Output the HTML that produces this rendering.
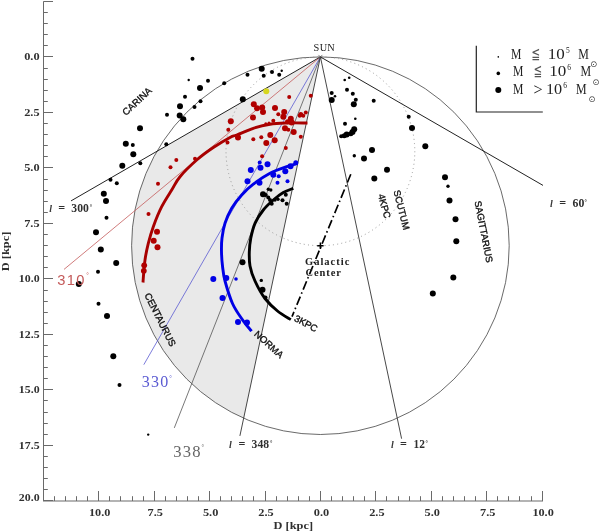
<!DOCTYPE html>
<html lang="en"><head><meta charset="utf-8"><title>Galactic plane distribution</title>
<style>html,body{margin:0;padding:0;background:#fff}body{width:600px;height:531px;overflow:hidden}svg{display:block}.ax{font-family:"Liberation Serif","DejaVu Serif",serif;font-size:11.3px;font-weight:bold;fill:#303030}.ll{font-family:"Liberation Serif","DejaVu Serif",serif;font-size:11.5px;font-weight:bold;fill:#303030}.arm{font-family:"Liberation Sans","DejaVu Sans",sans-serif;font-size:9.5px;fill:#111}.lg{font-family:"Liberation Serif","DejaVu Serif",serif;font-size:14px;fill:#222}</style></head><body>
<svg width="600" height="531" viewBox="0 0 600 531">
<rect width="600" height="531" fill="#fff"/>
<path d="M320.4,56.9 L156.9,151.3 A188.8,188.8 0 0 0 243.7,418.2 Z" fill="#e9e9e9"/>
<circle cx="320.4" cy="245.7" r="188.8" fill="none" stroke="#444" stroke-width="0.8"/>
<circle cx="320.4" cy="151.3" r="94.4" fill="none" stroke="#999" stroke-width="1" stroke-dasharray="1 3.2"/>
<line x1="320.4" y1="56.9" x2="71.0" y2="200.9" stroke="#222" stroke-width="1.0"/>
<line x1="320.4" y1="56.9" x2="64.0" y2="269.4" stroke="#c45a5a" stroke-width="0.8"/>
<line x1="320.4" y1="56.9" x2="143.8" y2="364.7" stroke="#5a5ad2" stroke-width="0.8"/>
<line x1="320.4" y1="56.9" x2="174.3" y2="427.9" stroke="#555" stroke-width="0.8"/>
<line x1="320.4" y1="56.9" x2="239.9" y2="435.9" stroke="#333" stroke-width="0.9"/>
<line x1="320.4" y1="56.9" x2="401.6" y2="438.7" stroke="#333" stroke-width="0.9"/>
<line x1="320.4" y1="56.9" x2="543.0" y2="185.4" stroke="#222" stroke-width="1.0"/>
<path d="M307.5,123.0 C304.0,123.0 292.9,122.8 286.7,123.0 C280.4,123.2 275.6,123.3 270.0,124.2 C264.4,125.1 258.9,126.5 253.3,128.3 C247.8,130.1 240.6,133.5 236.7,135.0 C232.8,136.5 233.9,135.4 230.0,137.5 C226.1,139.6 218.9,143.8 213.3,147.5 C207.8,151.2 202.2,155.1 196.7,160.0 C191.1,164.9 184.2,171.7 180.0,176.7 C175.8,181.7 174.8,185.0 171.7,190.0 C168.6,195.0 164.8,200.6 161.7,206.7 C158.6,212.8 155.5,220.6 153.3,226.7 C151.1,232.8 149.7,237.8 148.3,243.3 C146.9,248.9 145.8,254.2 145.0,260.0 C144.2,265.8 143.6,274.2 143.3,278.0 C143.0,281.8 143.1,281.8 143.0,282.5" fill="none" stroke="#a80000" stroke-width="2.9"/>
<path d="M297.5,163.3 C295.7,163.9 291.3,165.0 286.7,166.7 C282.1,168.4 275.6,170.4 270.0,173.3 C264.4,176.2 258.0,180.6 253.3,184.2 C248.6,187.8 245.3,191.0 241.7,195.0 C238.1,199.0 234.5,203.6 231.7,208.3 C228.9,213.0 226.6,218.4 225.0,223.3 C223.4,228.2 222.6,233.2 222.0,238.0 C221.4,242.8 221.4,247.3 221.5,252.0 C221.6,256.7 221.9,261.2 222.5,266.0 C223.1,270.8 223.3,274.8 225.0,281.0 C226.7,287.2 229.6,297.0 232.5,303.5 C235.4,310.0 239.3,315.2 242.5,319.8 C245.7,324.4 250.1,329.3 251.6,331.2" fill="none" stroke="#0000e6" stroke-width="2.9"/>
<path d="M293.3,188.3 C291.6,189.0 286.6,190.6 283.3,192.5 C280.0,194.4 276.6,197.1 273.3,200.0 C270.0,202.9 266.4,206.1 263.3,210.0 C260.2,213.9 257.1,218.6 255.0,223.3 C252.9,228.0 251.8,233.2 250.8,238.0 C249.9,242.8 249.4,247.3 249.3,252.0 C249.2,256.7 249.1,261.2 250.0,266.0 C250.9,270.8 252.5,275.6 255.0,281.0 C257.5,286.4 261.2,293.5 265.0,298.5 C268.8,303.5 273.2,307.5 277.5,311.0 C281.8,314.5 288.6,318.2 290.8,319.6" fill="none" stroke="#000" stroke-width="2.9"/>
<line x1="350.8" y1="174.2" x2="292.0" y2="316.6" stroke="#000" stroke-width="1.7" stroke-dasharray="9 3 1.5 3.05"/>
<path d="M317.2,245.7 h6.4 M320.4,242.5 v6.4" stroke="#000" stroke-width="1.5" fill="none"/>
<path d="M318.4,54.9 l4,4 M322.4,54.9 l-4,4" stroke="#555" stroke-width="0.7" fill="none"/>
<circle cx="192.5" cy="58.7" r="2" fill="#000"/>
<circle cx="188.7" cy="80" r="1.2" fill="#000"/>
<circle cx="208" cy="80.8" r="2" fill="#000"/>
<circle cx="200" cy="88" r="3" fill="#000"/>
<circle cx="224.2" cy="83.3" r="2" fill="#000"/>
<circle cx="247.5" cy="74.8" r="2" fill="#000"/>
<circle cx="242.8" cy="99.3" r="3" fill="#000"/>
<circle cx="185" cy="96.7" r="2" fill="#000"/>
<circle cx="200.5" cy="101.2" r="2" fill="#000"/>
<circle cx="194.5" cy="107" r="2" fill="#000"/>
<circle cx="180" cy="106.2" r="3" fill="#000"/>
<circle cx="167" cy="114.7" r="2" fill="#000"/>
<circle cx="179.7" cy="115.5" r="3" fill="#000"/>
<circle cx="183.3" cy="119.2" r="3" fill="#000"/>
<circle cx="261.7" cy="68.8" r="3" fill="#000"/>
<circle cx="263.7" cy="75.8" r="2" fill="#000"/>
<circle cx="272" cy="72" r="2" fill="#000"/>
<circle cx="279.2" cy="74.7" r="2" fill="#000"/>
<circle cx="281.7" cy="70.8" r="1.2" fill="#000"/>
<circle cx="140" cy="128.3" r="3" fill="#000"/>
<circle cx="132.8" cy="145" r="2" fill="#000"/>
<circle cx="133.3" cy="154.2" r="3" fill="#000"/>
<circle cx="166.3" cy="144.2" r="2" fill="#000"/>
<circle cx="140.3" cy="163.3" r="2" fill="#000"/>
<circle cx="125.8" cy="143.8" r="3" fill="#000"/>
<circle cx="122.3" cy="165.8" r="3" fill="#000"/>
<circle cx="110.5" cy="179.8" r="2" fill="#000"/>
<circle cx="116.8" cy="183.3" r="2" fill="#000"/>
<circle cx="103.8" cy="193.8" r="3" fill="#000"/>
<circle cx="106" cy="201" r="3" fill="#000"/>
<circle cx="106.5" cy="217.8" r="2" fill="#000"/>
<circle cx="96" cy="232.3" r="3" fill="#000"/>
<circle cx="100.8" cy="249.5" r="3" fill="#000"/>
<circle cx="116.2" cy="263" r="3" fill="#000"/>
<circle cx="98" cy="271.8" r="2" fill="#000"/>
<circle cx="78.8" cy="284" r="3" fill="#000"/>
<circle cx="98.5" cy="303.8" r="2" fill="#000"/>
<circle cx="107" cy="316" r="3" fill="#000"/>
<circle cx="113.3" cy="356.3" r="3" fill="#000"/>
<circle cx="119.5" cy="385" r="2" fill="#000"/>
<circle cx="148.2" cy="434.6" r="1.2" fill="#000"/>
<circle cx="242.5" cy="262.3" r="3" fill="#000"/>
<circle cx="261.3" cy="280.4" r="1.7" fill="#000"/>
<circle cx="262.5" cy="289.8" r="3" fill="#000"/>
<circle cx="265.5" cy="297.6" r="2" fill="#000"/>
<circle cx="268.3" cy="189.2" r="1.7" fill="#000"/>
<circle cx="270.8" cy="190" r="1.7" fill="#000"/>
<circle cx="263" cy="194.2" r="3" fill="#000"/>
<circle cx="265.8" cy="195" r="2" fill="#000"/>
<circle cx="268.3" cy="197.5" r="2" fill="#000"/>
<circle cx="270" cy="200" r="2" fill="#000"/>
<circle cx="271.7" cy="203.7" r="2" fill="#000"/>
<circle cx="275" cy="200" r="1.7" fill="#000"/>
<circle cx="278" cy="199.2" r="1.7" fill="#000"/>
<circle cx="282.5" cy="200.3" r="2" fill="#000"/>
<circle cx="286.7" cy="203.7" r="2" fill="#000"/>
<circle cx="285.8" cy="194.7" r="2" fill="#000"/>
<circle cx="344.7" cy="80" r="1.3" fill="#000"/>
<circle cx="349.2" cy="77.8" r="1.3" fill="#000"/>
<circle cx="347" cy="89.7" r="2" fill="#000"/>
<circle cx="352.8" cy="93.7" r="2" fill="#000"/>
<circle cx="331.7" cy="93" r="2" fill="#000"/>
<circle cx="335" cy="96.3" r="1.3" fill="#000"/>
<circle cx="331.7" cy="100" r="3" fill="#000"/>
<circle cx="355.8" cy="99.7" r="2" fill="#000"/>
<circle cx="353.8" cy="104.2" r="3" fill="#000"/>
<circle cx="373.7" cy="100.8" r="2" fill="#000"/>
<circle cx="355.3" cy="118.8" r="1.3" fill="#000"/>
<circle cx="345" cy="123.7" r="2" fill="#000"/>
<circle cx="354.2" cy="129.2" r="3" fill="#000"/>
<circle cx="352.5" cy="132" r="3" fill="#000"/>
<circle cx="350.8" cy="133.8" r="2.5" fill="#000"/>
<circle cx="346.7" cy="134.5" r="3" fill="#000"/>
<circle cx="344.2" cy="135.8" r="2.5" fill="#000"/>
<circle cx="341.2" cy="136.3" r="2" fill="#000"/>
<circle cx="408.7" cy="116.8" r="2" fill="#000"/>
<circle cx="412" cy="128" r="3" fill="#000"/>
<circle cx="425.3" cy="146.3" r="3" fill="#000"/>
<circle cx="372" cy="150" r="3" fill="#000"/>
<circle cx="354.3" cy="155.8" r="1.7" fill="#000"/>
<circle cx="364" cy="158.5" r="3" fill="#000"/>
<circle cx="387" cy="169.8" r="3" fill="#000"/>
<circle cx="374.3" cy="178.5" r="3" fill="#000"/>
<circle cx="445" cy="177.3" r="3" fill="#000"/>
<circle cx="448" cy="186.3" r="1.7" fill="#000"/>
<circle cx="449.5" cy="200.5" r="3" fill="#000"/>
<circle cx="455.5" cy="219.3" r="3" fill="#000"/>
<circle cx="456.3" cy="241.3" r="3" fill="#000"/>
<circle cx="453.3" cy="277.5" r="3" fill="#000"/>
<circle cx="432.8" cy="293.5" r="3" fill="#000"/>
<circle cx="289.2" cy="97" r="2" fill="#b00000"/>
<circle cx="310.8" cy="95.7" r="2" fill="#b00000"/>
<circle cx="253.8" cy="104.2" r="3" fill="#b00000"/>
<circle cx="257" cy="108.3" r="3" fill="#b00000"/>
<circle cx="262.2" cy="107.5" r="3" fill="#b00000"/>
<circle cx="263" cy="112" r="3" fill="#b00000"/>
<circle cx="275" cy="108" r="3" fill="#b00000"/>
<circle cx="278.3" cy="114.2" r="2" fill="#b00000"/>
<circle cx="284.2" cy="112" r="3" fill="#b00000"/>
<circle cx="283.3" cy="116.7" r="3" fill="#b00000"/>
<circle cx="253" cy="117.5" r="3" fill="#b00000"/>
<circle cx="230.8" cy="121.3" r="3" fill="#b00000"/>
<circle cx="228.3" cy="129.7" r="2" fill="#b00000"/>
<circle cx="273.3" cy="120.8" r="2" fill="#b00000"/>
<circle cx="265.8" cy="123.7" r="1.5" fill="#b00000"/>
<circle cx="269" cy="123" r="1.5" fill="#b00000"/>
<circle cx="290.8" cy="118.7" r="3" fill="#b00000"/>
<circle cx="291.7" cy="122.5" r="3" fill="#b00000"/>
<circle cx="287.5" cy="121.7" r="2.5" fill="#b00000"/>
<circle cx="300.8" cy="114.5" r="2.5" fill="#b00000"/>
<circle cx="303.3" cy="115.8" r="2" fill="#b00000"/>
<circle cx="305.8" cy="112.5" r="2" fill="#b00000"/>
<circle cx="299.7" cy="115.8" r="2" fill="#b00000"/>
<circle cx="285" cy="128.3" r="3" fill="#b00000"/>
<circle cx="288.3" cy="129.7" r="2" fill="#b00000"/>
<circle cx="293.7" cy="132" r="3" fill="#b00000"/>
<circle cx="300.8" cy="136.7" r="2" fill="#b00000"/>
<circle cx="238" cy="137.5" r="3" fill="#b00000"/>
<circle cx="227.5" cy="142.5" r="2" fill="#b00000"/>
<circle cx="253.3" cy="139.2" r="2" fill="#b00000"/>
<circle cx="261.3" cy="137.2" r="2" fill="#b00000"/>
<circle cx="270.3" cy="135" r="3" fill="#b00000"/>
<circle cx="274.7" cy="140.3" r="3" fill="#b00000"/>
<circle cx="266.3" cy="143" r="3" fill="#b00000"/>
<circle cx="285.8" cy="148" r="2" fill="#b00000"/>
<circle cx="262.1" cy="156.3" r="2" fill="#b00000"/>
<circle cx="176.3" cy="160" r="2" fill="#b00000"/>
<circle cx="170.5" cy="167.2" r="2" fill="#b00000"/>
<circle cx="195" cy="158.8" r="2" fill="#b00000"/>
<circle cx="158" cy="183.8" r="2" fill="#b00000"/>
<circle cx="148.5" cy="213.9" r="2" fill="#b00000"/>
<circle cx="157" cy="231.7" r="3" fill="#b00000"/>
<circle cx="153.7" cy="240.8" r="3" fill="#b00000"/>
<circle cx="157.5" cy="247.2" r="3" fill="#b00000"/>
<circle cx="144.2" cy="265.3" r="2.9" fill="#b00000"/>
<circle cx="143.8" cy="270.8" r="2.9" fill="#b00000"/>
<circle cx="259.7" cy="162.5" r="2" fill="#0000e6"/>
<circle cx="267.5" cy="164.2" r="3" fill="#0000e6"/>
<circle cx="260.5" cy="167.8" r="3" fill="#0000e6"/>
<circle cx="250.8" cy="170" r="3" fill="#0000e6"/>
<circle cx="247.5" cy="181.2" r="3" fill="#0000e6"/>
<circle cx="259.5" cy="182.8" r="3" fill="#0000e6"/>
<circle cx="273.3" cy="174.7" r="3" fill="#0000e6"/>
<circle cx="278.7" cy="176.2" r="2" fill="#0000e6"/>
<circle cx="285.3" cy="171.3" r="3" fill="#0000e6"/>
<circle cx="290.5" cy="166.2" r="3" fill="#0000e6"/>
<circle cx="295.8" cy="162.8" r="2.5" fill="#0000e6"/>
<circle cx="277.5" cy="182.8" r="2" fill="#0000e6"/>
<circle cx="287.5" cy="181.2" r="2" fill="#0000e6"/>
<circle cx="213.3" cy="279" r="3" fill="#0000e6"/>
<circle cx="226.3" cy="278" r="3" fill="#0000e6"/>
<circle cx="236" cy="279" r="1.8" fill="#0000e6"/>
<circle cx="222.5" cy="298" r="3" fill="#0000e6"/>
<circle cx="238" cy="322" r="3" fill="#0000e6"/>
<circle cx="247" cy="322.5" r="3" fill="#0000e6"/>
<circle cx="266.3" cy="91.2" r="3" fill="#d6d61e"/>
<path d="M43.5,1.4 V501.0" fill="none" stroke="#6a6a6a" stroke-width="1"/>
<path d="M43.0,501.0 H543.0" fill="none" stroke="#6a6a6a" stroke-width="1.2"/>
<line x1="43.5" y1="1.5" x2="53.0" y2="1.5" stroke="#6a6a6a" stroke-width="1"/>
<line x1="43.5" y1="12.5" x2="47.8" y2="12.5" stroke="#6a6a6a" stroke-width="1"/>
<line x1="43.5" y1="23.5" x2="47.8" y2="23.5" stroke="#6a6a6a" stroke-width="1"/>
<line x1="43.5" y1="34.5" x2="47.8" y2="34.5" stroke="#6a6a6a" stroke-width="1"/>
<line x1="43.5" y1="45.5" x2="47.8" y2="45.5" stroke="#6a6a6a" stroke-width="1"/>
<line x1="43.5" y1="56.5" x2="53.0" y2="56.5" stroke="#6a6a6a" stroke-width="1"/>
<text class="ax" x="24.2" y="60.4" textLength="15.4" lengthAdjust="spacingAndGlyphs">0.0</text>
<line x1="43.5" y1="68.5" x2="47.8" y2="68.5" stroke="#6a6a6a" stroke-width="1"/>
<line x1="43.5" y1="79.5" x2="47.8" y2="79.5" stroke="#6a6a6a" stroke-width="1"/>
<line x1="43.5" y1="90.5" x2="47.8" y2="90.5" stroke="#6a6a6a" stroke-width="1"/>
<line x1="43.5" y1="101.5" x2="47.8" y2="101.5" stroke="#6a6a6a" stroke-width="1"/>
<line x1="43.5" y1="112.5" x2="53.0" y2="112.5" stroke="#6a6a6a" stroke-width="1"/>
<text class="ax" x="24.2" y="115.9" textLength="15.4" lengthAdjust="spacingAndGlyphs">2.5</text>
<line x1="43.5" y1="123.5" x2="47.8" y2="123.5" stroke="#6a6a6a" stroke-width="1"/>
<line x1="43.5" y1="134.5" x2="47.8" y2="134.5" stroke="#6a6a6a" stroke-width="1"/>
<line x1="43.5" y1="145.5" x2="47.8" y2="145.5" stroke="#6a6a6a" stroke-width="1"/>
<line x1="43.5" y1="156.5" x2="47.8" y2="156.5" stroke="#6a6a6a" stroke-width="1"/>
<line x1="43.5" y1="167.5" x2="53.0" y2="167.5" stroke="#6a6a6a" stroke-width="1"/>
<text class="ax" x="24.2" y="171.4" textLength="15.4" lengthAdjust="spacingAndGlyphs">5.0</text>
<line x1="43.5" y1="179.5" x2="47.8" y2="179.5" stroke="#6a6a6a" stroke-width="1"/>
<line x1="43.5" y1="190.5" x2="47.8" y2="190.5" stroke="#6a6a6a" stroke-width="1"/>
<line x1="43.5" y1="201.5" x2="47.8" y2="201.5" stroke="#6a6a6a" stroke-width="1"/>
<line x1="43.5" y1="212.5" x2="47.8" y2="212.5" stroke="#6a6a6a" stroke-width="1"/>
<line x1="43.5" y1="223.5" x2="53.0" y2="223.5" stroke="#6a6a6a" stroke-width="1"/>
<text class="ax" x="24.2" y="226.9" textLength="15.4" lengthAdjust="spacingAndGlyphs">7.5</text>
<line x1="43.5" y1="234.5" x2="47.8" y2="234.5" stroke="#6a6a6a" stroke-width="1"/>
<line x1="43.5" y1="245.5" x2="47.8" y2="245.5" stroke="#6a6a6a" stroke-width="1"/>
<line x1="43.5" y1="256.5" x2="47.8" y2="256.5" stroke="#6a6a6a" stroke-width="1"/>
<line x1="43.5" y1="267.5" x2="47.8" y2="267.5" stroke="#6a6a6a" stroke-width="1"/>
<line x1="43.5" y1="278.5" x2="53.0" y2="278.5" stroke="#6a6a6a" stroke-width="1"/>
<text class="ax" x="18.8" y="282.4" textLength="20.8" lengthAdjust="spacingAndGlyphs">10.0</text>
<line x1="43.5" y1="290.5" x2="47.8" y2="290.5" stroke="#6a6a6a" stroke-width="1"/>
<line x1="43.5" y1="301.5" x2="47.8" y2="301.5" stroke="#6a6a6a" stroke-width="1"/>
<line x1="43.5" y1="312.5" x2="47.8" y2="312.5" stroke="#6a6a6a" stroke-width="1"/>
<line x1="43.5" y1="323.5" x2="47.8" y2="323.5" stroke="#6a6a6a" stroke-width="1"/>
<line x1="43.5" y1="334.5" x2="53.0" y2="334.5" stroke="#6a6a6a" stroke-width="1"/>
<text class="ax" x="18.8" y="337.9" textLength="20.8" lengthAdjust="spacingAndGlyphs">12.5</text>
<line x1="43.5" y1="345.5" x2="47.8" y2="345.5" stroke="#6a6a6a" stroke-width="1"/>
<line x1="43.5" y1="356.5" x2="47.8" y2="356.5" stroke="#6a6a6a" stroke-width="1"/>
<line x1="43.5" y1="367.5" x2="47.8" y2="367.5" stroke="#6a6a6a" stroke-width="1"/>
<line x1="43.5" y1="378.5" x2="47.8" y2="378.5" stroke="#6a6a6a" stroke-width="1"/>
<line x1="43.5" y1="389.5" x2="53.0" y2="389.5" stroke="#6a6a6a" stroke-width="1"/>
<text class="ax" x="18.8" y="393.4" textLength="20.8" lengthAdjust="spacingAndGlyphs">15.0</text>
<line x1="43.5" y1="400.5" x2="47.8" y2="400.5" stroke="#6a6a6a" stroke-width="1"/>
<line x1="43.5" y1="412.5" x2="47.8" y2="412.5" stroke="#6a6a6a" stroke-width="1"/>
<line x1="43.5" y1="423.5" x2="47.8" y2="423.5" stroke="#6a6a6a" stroke-width="1"/>
<line x1="43.5" y1="434.5" x2="47.8" y2="434.5" stroke="#6a6a6a" stroke-width="1"/>
<line x1="43.5" y1="445.5" x2="53.0" y2="445.5" stroke="#6a6a6a" stroke-width="1"/>
<text class="ax" x="18.8" y="448.9" textLength="20.8" lengthAdjust="spacingAndGlyphs">17.5</text>
<line x1="43.5" y1="456.5" x2="47.8" y2="456.5" stroke="#6a6a6a" stroke-width="1"/>
<line x1="43.5" y1="467.5" x2="47.8" y2="467.5" stroke="#6a6a6a" stroke-width="1"/>
<line x1="43.5" y1="478.5" x2="47.8" y2="478.5" stroke="#6a6a6a" stroke-width="1"/>
<line x1="43.5" y1="489.5" x2="47.8" y2="489.5" stroke="#6a6a6a" stroke-width="1"/>
<line x1="43.5" y1="500.5" x2="53.0" y2="500.5" stroke="#6a6a6a" stroke-width="1"/>
<text class="ax" x="18.8" y="500.7" textLength="20.8" lengthAdjust="spacingAndGlyphs">20.0</text>
<line x1="43.5" y1="501.0" x2="43.5" y2="491.0" stroke="#6a6a6a" stroke-width="1"/>
<line x1="54.5" y1="501.0" x2="54.5" y2="496.2" stroke="#6a6a6a" stroke-width="1"/>
<line x1="65.5" y1="501.0" x2="65.5" y2="496.2" stroke="#6a6a6a" stroke-width="1"/>
<line x1="76.5" y1="501.0" x2="76.5" y2="496.2" stroke="#6a6a6a" stroke-width="1"/>
<line x1="87.5" y1="501.0" x2="87.5" y2="496.2" stroke="#6a6a6a" stroke-width="1"/>
<line x1="98.5" y1="501.0" x2="98.5" y2="491.0" stroke="#6a6a6a" stroke-width="1"/>
<text class="ax" x="89.0" y="515.6" textLength="21.4" lengthAdjust="spacingAndGlyphs">10.0</text>
<line x1="109.5" y1="501.0" x2="109.5" y2="496.2" stroke="#6a6a6a" stroke-width="1"/>
<line x1="120.5" y1="501.0" x2="120.5" y2="496.2" stroke="#6a6a6a" stroke-width="1"/>
<line x1="132.5" y1="501.0" x2="132.5" y2="496.2" stroke="#6a6a6a" stroke-width="1"/>
<line x1="143.5" y1="501.0" x2="143.5" y2="496.2" stroke="#6a6a6a" stroke-width="1"/>
<line x1="154.5" y1="501.0" x2="154.5" y2="491.0" stroke="#6a6a6a" stroke-width="1"/>
<text class="ax" x="147.5" y="515.6" textLength="15.4" lengthAdjust="spacingAndGlyphs">7.5</text>
<line x1="165.5" y1="501.0" x2="165.5" y2="496.2" stroke="#6a6a6a" stroke-width="1"/>
<line x1="176.5" y1="501.0" x2="176.5" y2="496.2" stroke="#6a6a6a" stroke-width="1"/>
<line x1="187.5" y1="501.0" x2="187.5" y2="496.2" stroke="#6a6a6a" stroke-width="1"/>
<line x1="198.5" y1="501.0" x2="198.5" y2="496.2" stroke="#6a6a6a" stroke-width="1"/>
<line x1="209.5" y1="501.0" x2="209.5" y2="491.0" stroke="#6a6a6a" stroke-width="1"/>
<text class="ax" x="202.9" y="515.6" textLength="15.4" lengthAdjust="spacingAndGlyphs">5.0</text>
<line x1="220.5" y1="501.0" x2="220.5" y2="496.2" stroke="#6a6a6a" stroke-width="1"/>
<line x1="231.5" y1="501.0" x2="231.5" y2="496.2" stroke="#6a6a6a" stroke-width="1"/>
<line x1="242.5" y1="501.0" x2="242.5" y2="496.2" stroke="#6a6a6a" stroke-width="1"/>
<line x1="253.5" y1="501.0" x2="253.5" y2="496.2" stroke="#6a6a6a" stroke-width="1"/>
<line x1="265.5" y1="501.0" x2="265.5" y2="491.0" stroke="#6a6a6a" stroke-width="1"/>
<text class="ax" x="258.3" y="515.6" textLength="15.4" lengthAdjust="spacingAndGlyphs">2.5</text>
<line x1="276.5" y1="501.0" x2="276.5" y2="496.2" stroke="#6a6a6a" stroke-width="1"/>
<line x1="287.5" y1="501.0" x2="287.5" y2="496.2" stroke="#6a6a6a" stroke-width="1"/>
<line x1="298.5" y1="501.0" x2="298.5" y2="496.2" stroke="#6a6a6a" stroke-width="1"/>
<line x1="309.5" y1="501.0" x2="309.5" y2="496.2" stroke="#6a6a6a" stroke-width="1"/>
<line x1="320.5" y1="501.0" x2="320.5" y2="491.0" stroke="#6a6a6a" stroke-width="1"/>
<text class="ax" x="313.8" y="515.6" textLength="15.4" lengthAdjust="spacingAndGlyphs">0.0</text>
<line x1="331.5" y1="501.0" x2="331.5" y2="496.2" stroke="#6a6a6a" stroke-width="1"/>
<line x1="342.5" y1="501.0" x2="342.5" y2="496.2" stroke="#6a6a6a" stroke-width="1"/>
<line x1="353.5" y1="501.0" x2="353.5" y2="496.2" stroke="#6a6a6a" stroke-width="1"/>
<line x1="364.5" y1="501.0" x2="364.5" y2="496.2" stroke="#6a6a6a" stroke-width="1"/>
<line x1="375.5" y1="501.0" x2="375.5" y2="491.0" stroke="#6a6a6a" stroke-width="1"/>
<text class="ax" x="369.2" y="515.6" textLength="15.4" lengthAdjust="spacingAndGlyphs">2.5</text>
<line x1="386.5" y1="501.0" x2="386.5" y2="496.2" stroke="#6a6a6a" stroke-width="1"/>
<line x1="398.5" y1="501.0" x2="398.5" y2="496.2" stroke="#6a6a6a" stroke-width="1"/>
<line x1="409.5" y1="501.0" x2="409.5" y2="496.2" stroke="#6a6a6a" stroke-width="1"/>
<line x1="420.5" y1="501.0" x2="420.5" y2="496.2" stroke="#6a6a6a" stroke-width="1"/>
<line x1="431.5" y1="501.0" x2="431.5" y2="491.0" stroke="#6a6a6a" stroke-width="1"/>
<text class="ax" x="424.6" y="515.6" textLength="15.4" lengthAdjust="spacingAndGlyphs">5.0</text>
<line x1="442.5" y1="501.0" x2="442.5" y2="496.2" stroke="#6a6a6a" stroke-width="1"/>
<line x1="453.5" y1="501.0" x2="453.5" y2="496.2" stroke="#6a6a6a" stroke-width="1"/>
<line x1="464.5" y1="501.0" x2="464.5" y2="496.2" stroke="#6a6a6a" stroke-width="1"/>
<line x1="475.5" y1="501.0" x2="475.5" y2="496.2" stroke="#6a6a6a" stroke-width="1"/>
<line x1="486.5" y1="501.0" x2="486.5" y2="491.0" stroke="#6a6a6a" stroke-width="1"/>
<text class="ax" x="480.0" y="515.6" textLength="15.4" lengthAdjust="spacingAndGlyphs">7.5</text>
<line x1="497.5" y1="501.0" x2="497.5" y2="496.2" stroke="#6a6a6a" stroke-width="1"/>
<line x1="508.5" y1="501.0" x2="508.5" y2="496.2" stroke="#6a6a6a" stroke-width="1"/>
<line x1="519.5" y1="501.0" x2="519.5" y2="496.2" stroke="#6a6a6a" stroke-width="1"/>
<line x1="531.5" y1="501.0" x2="531.5" y2="496.2" stroke="#6a6a6a" stroke-width="1"/>
<line x1="542.5" y1="501.0" x2="542.5" y2="491.0" stroke="#6a6a6a" stroke-width="1"/>
<text class="ax" x="532.4" y="515.6" textLength="21.4" lengthAdjust="spacingAndGlyphs">10.0</text>
<text class="ax" x="273.6" y="528.6" textLength="39.4" lengthAdjust="spacingAndGlyphs">D [kpc]</text>
<text class="ax" transform="translate(8.9,271.2) rotate(-90)" textLength="39.6" lengthAdjust="spacingAndGlyphs" style="font-size:11px">D [kpc]</text>
<text class="ll" y="211.9"><tspan x="49.3" font-style="italic" font-size="10" fill="#3a3a3a">l</tspan><tspan x="58.2" textLength="6.9" lengthAdjust="spacingAndGlyphs">=</tspan><tspan x="71.3" textLength="17.5" lengthAdjust="spacingAndGlyphs">300</tspan><tspan x="89.8" dy="-3.4" font-size="6" fill="#222">°</tspan></text>
<text class="ll" y="448.0"><tspan x="229.0" font-style="italic" font-size="10" fill="#3a3a3a">l</tspan><tspan x="238.6" textLength="6.9" lengthAdjust="spacingAndGlyphs">=</tspan><tspan x="251.6" textLength="17.4" lengthAdjust="spacingAndGlyphs">348</tspan><tspan x="270.0" dy="-3.4" font-size="6" fill="#222">°</tspan></text>
<text class="ll" y="448.0"><tspan x="391.0" font-style="italic" font-size="10" fill="#3a3a3a">l</tspan><tspan x="400.0" textLength="6.9" lengthAdjust="spacingAndGlyphs">=</tspan><tspan x="413.6" textLength="11.4" lengthAdjust="spacingAndGlyphs">12</tspan><tspan x="425.6" dy="-3.4" font-size="6" fill="#222">°</tspan></text>
<text class="ll" y="206.9"><tspan x="550.0" font-style="italic" font-size="10" fill="#3a3a3a">l</tspan><tspan x="559.3" textLength="6.9" lengthAdjust="spacingAndGlyphs">=</tspan><tspan x="572.5" textLength="11.8" lengthAdjust="spacingAndGlyphs">60</tspan><tspan x="584.6" dy="-3.4" font-size="6" fill="#222">°</tspan></text>
<text x="57.2" y="284.6" textLength="27.3" lengthAdjust="spacing" style="font-family:'Liberation Sans',sans-serif;font-size:14.7px;fill:#c45a5a">310</text>
<text x="86.2" y="277.6" style="font-family:'Liberation Sans',sans-serif;font-size:6.5px;fill:#c45a5a">°</text>
<text x="141.7" y="387.3" textLength="26.6" lengthAdjust="spacing" style="font-family:'Liberation Serif',serif;font-size:16px;fill:#5a5ad2">330</text>
<text x="169.2" y="380.1" style="font-family:'Liberation Serif',serif;font-size:6.5px;fill:#5a5ad2">°</text>
<text x="173.2" y="456.5" textLength="27.3" lengthAdjust="spacing" style="font-family:'Liberation Serif',serif;font-size:16.6px;fill:#666">338</text>
<text x="201.5" y="449.1" style="font-family:'Liberation Serif',serif;font-size:6.5px;fill:#666">°</text>
<text x="313.6" y="51.4" textLength="21.2" lengthAdjust="spacing" style="font-family:'Liberation Serif',serif;font-size:10.3px;fill:#222">SUN</text>
<text class="ll" x="305" y="264.6" textLength="44.3" lengthAdjust="spacing" style="font-size:10.5px;fill:#222">Galactic</text>
<text class="ll" x="305.5" y="275.6" textLength="35.5" lengthAdjust="spacing" style="font-size:10.5px;fill:#222">Center</text>
<g stroke="#111" stroke-width="0.35">
<text class="arm" transform="translate(126.1,115.9) rotate(-43)">CARINA</text>
<text class="arm" transform="translate(144.3,295) rotate(63.5)">CENTAURUS</text>
<text class="arm" transform="translate(253.6,335.0) rotate(42)">NORMA</text>
<text class="arm" transform="translate(293.5,320.5) rotate(28)">3KPC</text>
<text class="arm" transform="translate(378,195) rotate(75)">4KPC</text>
<text class="arm" transform="translate(393.5,191) rotate(76)">SCUTUM</text>
<text class="arm" transform="translate(474.5,201.5) rotate(79)">SAGITTARIUS</text>
</g>
<path d="M476.3,45.8 V112 H542.8" fill="none" stroke="#222" stroke-width="1.2"/>
<circle cx="498.3" cy="56.9" r="0.8" fill="#000"/><circle cx="498.3" cy="73.4" r="1.8" fill="#000"/><circle cx="498.3" cy="89.9" r="3" fill="#000"/>
<text class="lg" y="59.3"><tspan x="511.1" textLength="10.4" lengthAdjust="spacingAndGlyphs">M</tspan><tspan x="547.7" textLength="17.0" lengthAdjust="spacingAndGlyphs">10</tspan><tspan x="566.0" dy="-6" font-size="7.5">5</tspan><tspan x="578.2" dy="6" textLength="10.6" lengthAdjust="spacingAndGlyphs">M</tspan></text>
<text x="531.2" y="59.4" textLength="8.8" lengthAdjust="spacingAndGlyphs" style="font-family:'DejaVu Sans','Noto Sans CJK JP',sans-serif;font-size:16px;fill:#555">≦</text>
<text x="593.6" y="67.45" text-anchor="middle" style="font-family:'DejaVu Sans',sans-serif;font-size:8.4px;fill:#333">⊙</text>
<text class="lg" y="76.1"><tspan x="512.9" textLength="10.4" lengthAdjust="spacingAndGlyphs">M</tspan><tspan x="549.2" textLength="17.0" lengthAdjust="spacingAndGlyphs">10</tspan><tspan x="567.3" dy="-6" font-size="7.5">6</tspan><tspan x="580.6" dy="6" textLength="10.6" lengthAdjust="spacingAndGlyphs">M</tspan></text>
<text x="533.6" y="76.2" textLength="8.5" lengthAdjust="spacingAndGlyphs" style="font-family:'DejaVu Sans','Noto Sans CJK JP',sans-serif;font-size:16px;fill:#555">≦</text>
<text x="595.8" y="84.65" text-anchor="middle" style="font-family:'DejaVu Sans',sans-serif;font-size:8.4px;fill:#333">⊙</text>
<text class="lg" y="94.4"><tspan x="512.9" textLength="10.4" lengthAdjust="spacingAndGlyphs">M</tspan><tspan x="545.9" textLength="16.2" lengthAdjust="spacingAndGlyphs">10</tspan><tspan x="563.2" dy="-6" font-size="7.5">6</tspan><tspan x="576.1" dy="6" textLength="10.6" lengthAdjust="spacingAndGlyphs">M</tspan></text>
<text class="lg" x="533.5" y="95.4" textLength="9.2" lengthAdjust="spacingAndGlyphs" style="font-size:17px">&gt;</text>
<text x="591.8" y="101.75" text-anchor="middle" style="font-family:'DejaVu Sans',sans-serif;font-size:8.4px;fill:#333">⊙</text>
</svg></body></html>
